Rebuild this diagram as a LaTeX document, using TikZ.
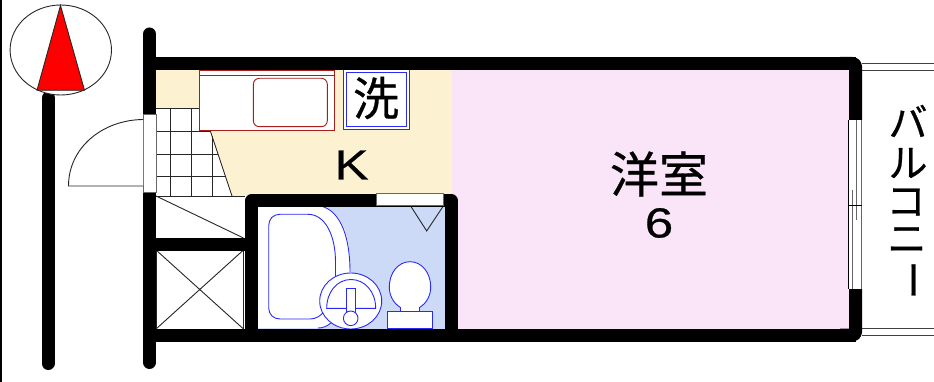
\documentclass[tikz,border=0pt]{standalone}
\usepackage{fontspec}
\setmainfont{Liberation Sans}
\newfontfamily\jpfont[FakeBold=0.6]{Noto Sans CJK JP}
\newfontfamily\latinwide[FakeBold=0.5,FakeStretch=1.22]{Liberation Sans}
\definecolor{cream}{HTML}{FCF1D0}
\definecolor{pinkroom}{HTML}{F9E4F8}
\definecolor{bathblue}{HTML}{CCDAF8}
\definecolor{sinkred}{HTML}{A81C1C}
\definecolor{fixblue}{HTML}{2A2AF5}
\begin{document}
\begin{tikzpicture}[x=1pt,y=-1pt,
  wall/.style={line width=13pt,line cap=round,line join=round,black},
  wallb/.style={line width=13pt,line cap=butt,line join=round,black},
  thin1/.style={line width=0.9pt,black!85},
  fix/.style={line width=0.9pt,fixblue},
  sink/.style={line width=0.9pt,sinkred},
  win/.style={fill=white,draw=black!60,line width=0.8pt},
  lbl/.style={inner sep=0pt,text=black}]
\useasboundingbox (0,0) rectangle (934,382);
\fill[white] (0,0) rectangle (934,382);
\fill[black] (0,0) rectangle (1.5,382);
% floors
\fill[pinkroom] (452,70) rectangle (849,329);
\fill[cream] (156,70) rectangle (452,196);
\fill[white] (156,108) -- (199,108) -- (199,130) -- (210,130) -- (232,196) -- (156,196) -- cycle;
\fill[bathblue] (258,205) rectangle (445,329);
% tiles
\draw[thin1,line width=0.8pt] (170,108) -- (170,196) (191,108) -- (191,196) (212,136) -- (212,196);
\draw[thin1,line width=0.8pt] (156,108) -- (199,108) (156,131) -- (211,131) (156,154) -- (218,154) (156,176.5) -- (226,176.5) (156,196) -- (245,196);
\draw[thin1] (210,130) -- (232,196);
% sink counter
\draw[sink,fill=white] (199.5,70) rectangle (334.5,130);
\draw[sink] (199.5,75) -- (334.5,75);
\draw[sink,rounded corners=6pt] (253.3,78.3) rectangle (327.3,126.7);
% washer
\draw[fix,fill=white] (343,69.5) rectangle (409.3,129.3);
\draw[fix] (346,72.5) rectangle (406.5,126.5);
\node[lbl] (wash) at (376,98) {\jpfont\fontsize{46}{46}\selectfont 洗};
\node[lbl] (kit) at (351.5,165) {\latinwide\fontsize{42}{42}\selectfont K};
% closets
\draw[thin1] (156,196) -- (243.5,238);
\draw[thin1,line width=0.8pt] (156,250) rectangle (243.5,329);
\draw[thin1] (156,250) -- (243.5,329) (156,329) -- (243.5,250);
% bath
\fill[white] (258,205.5) -- (320,205.5) .. controls (338,208) and (350,232) .. (350,262) -- (350,290) -- (330,325) .. controls (325,327) and (322,328) .. (318,328) -- (258,328) -- cycle;
\draw[fix] (258,205.5) -- (318,205.5) .. controls (338,208) and (350,232) .. (350,272);
\draw[fix] (318,328) .. controls (322,328) and (326,327) .. (331,323);
\draw[fix] (324,312) .. controls (320,316) and (316,319) .. (310,319) -- (280,319) .. controls (273,319) and (268.7,314) .. (268.7,308) -- (268.7,226) .. controls (268.7,219) and (273,214.3) .. (280,214.3) -- (308,214.3) .. controls (325,214.3) and (335.5,235) .. (335.5,262) -- (335.5,280);
\draw[fix,fill=white] (350.7,301) ellipse [x radius=31,y radius=28];
\draw[fix] (326.7,308.3) .. controls (326.7,292) and (337,279.5) .. (351,279.5) .. controls (365,279.5) and (375.7,292) .. (375.7,308.3) -- cycle;
\draw[fix,fill=white] (346.7,288.3) rectangle (355,313);
\draw[fix,fill=white] (350.7,318.3) circle [radius=7.3];
\draw[fix,fill=white] (400.5,311) -- (400.5,307.5) .. controls (393,303) and (389.3,295) .. (389.3,287) .. controls (389.3,273) and (398,261.7) .. (410,261.7) .. controls (422,261.7) and (430.7,273) .. (430.7,287) .. controls (430.7,295) and (427,303) .. (419.5,307.5) -- (419.5,311);
\draw[fix,fill=white] (387.5,311) rectangle (432,328.5);
\draw[thin1] (410,205) -- (426.7,231) -- (444,205);
% walls
\draw[wall] (149.5,34) -- (149.5,362.5);
\draw[wallb] (149.5,63.5) -- (855.5,63.5);
\draw[wallb] (149.5,335) -- (855.5,335);
\draw[wall,line cap=butt,rounded corners=3pt] (855.5,120) -- (855.5,63.5) -- (840,63.5);
\draw[wall,line cap=butt,rounded corners=3pt] (855.5,289) -- (855.5,335) -- (840,335);
\draw[wallb] (251.5,329) -- (251.5,201) -- (451.5,201) -- (451.5,329);
\draw[wallb] (156,244) -- (245,244);
\draw[wall] (48,98) -- (48,363.5);
% windows
\draw[win] (143,114) rectangle (156,192);
\draw[win] (376.5,193.5) rectangle (443,205);
\fill[white] (848.3,120) rectangle (861.7,289);
\draw[line width=0.8pt,black!60] (861.7,120) -- (861.7,289) (856.7,120) -- (856.7,220) (852.7,190) -- (852.7,289);
\draw[line width=0.8pt,black] (848.3,120) -- (848.3,289) (848.3,205.7) -- (861.7,205.7);
% door
\draw[thin1,fill=white] (143,186) -- (68.5,186) .. controls (68.5,148) and (102,120) .. (143,119.5);
% balcony
\draw[line width=0.8pt,black!75] (862,63.5) -- (934,63.5) (862,70) -- (934,70) (862,328) -- (934,328) (862,335) -- (934,335);
% north mark
\draw[thin1,fill=white] (60.8,50) ellipse [x radius=50.7,y radius=45];
\draw[thin1,fill=red] (60.5,5.5) -- (37,90.3) -- (84.5,90.3) -- cycle;
% labels
\node[lbl] (room) at (659,174) {\jpfont\fontsize{49}{49}\selectfont 洋室};
\node[lbl] (six) at (659,223) {\latinwide\fontsize{42}{42}\selectfont 6};
\node[lbl] (b1) at (908,121) {\jpfont\fontsize{39}{39}\selectfont バ};
\node[lbl] (b2) at (908,163) {\jpfont\fontsize{39}{39}\selectfont ル};
\node[lbl] (b3) at (906,202) {\jpfont\fontsize{39}{39}\selectfont コ};
\node[lbl] (b4) at (907,240) {\jpfont\fontsize{39}{39}\selectfont ニ};
\node[lbl,rotate=-90] (b5) at (907,280) {\jpfont\fontsize{39}{39}\selectfont ー};
\end{tikzpicture}
\end{document}
